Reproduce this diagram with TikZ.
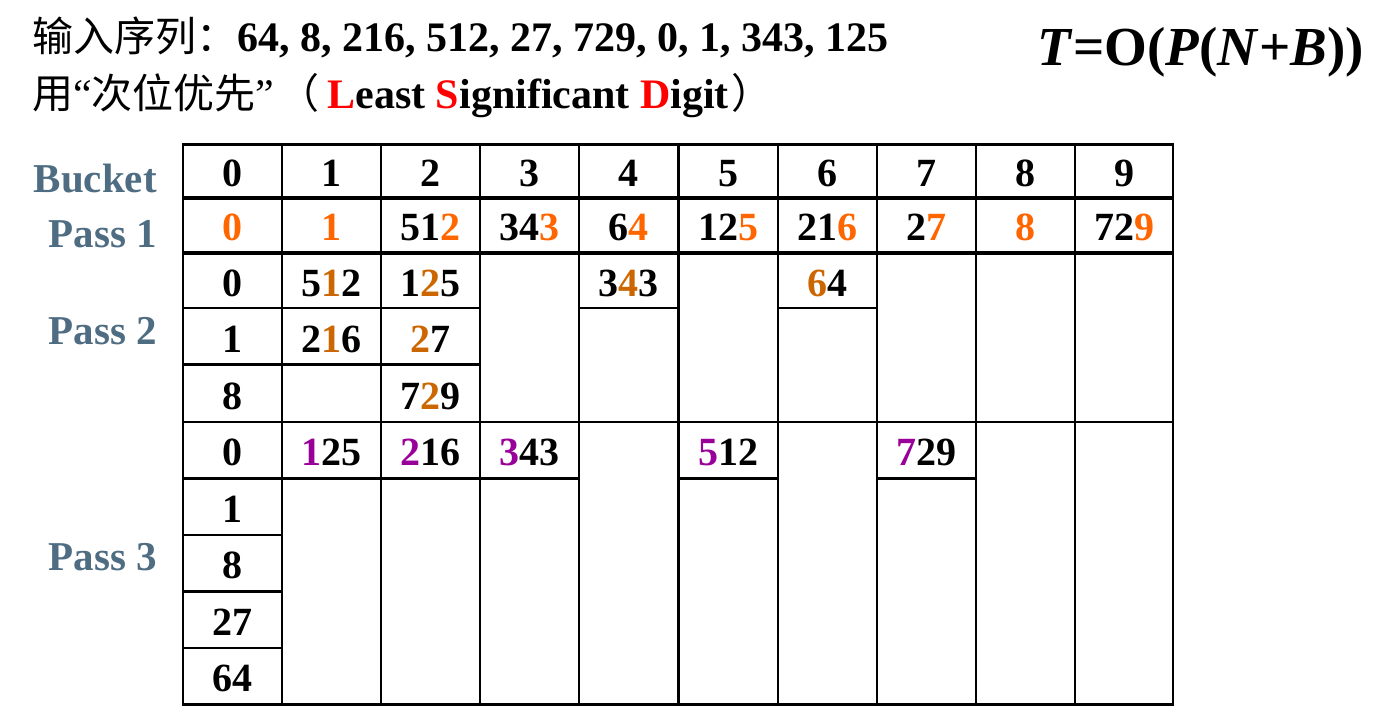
\documentclass[tikz,border=0pt]{standalone}
\usepackage{fontspec}
\setmainfont{Liberation Serif}
\newfontfamily\cjk{Noto Sans CJK SC}
\definecolor{lab}{HTML}{4F6D82}
\definecolor{ora}{HTML}{FF6600}
\definecolor{orb}{HTML}{CC6600}
\definecolor{pur}{HTML}{990099}
\newcommand{\oa}[1]{\textcolor{ora}{#1}}
\newcommand{\ob}[1]{\textcolor{orb}{#1}}
\newcommand{\pp}[1]{\textcolor{pur}{#1}}
\newcommand{\rd}[1]{\textcolor{red}{#1}}
\begin{document}
\begin{tikzpicture}[x=1pt,y=-1pt,
  cell/.style={anchor=base,font=\fontsize{40}{40}\selectfont\bfseries,inner sep=0pt},
  lbl/.style={anchor=base east,font=\fontsize{41}{41}\selectfont\bfseries,text=lab,inner sep=0pt},
  title/.style={anchor=base west,font=\fontsize{42}{42}\selectfont,inner sep=0pt},
  gridline/.style={line width=2.6pt},
  heavyrule/.style={line width=4pt}]
\useasboundingbox (0,0) rectangle (1378,715);
\fill[white] (0,0) rectangle (1378,715);

% titles
\node[title] (t1) at (32,51) {{\cjk\fontsize{41}{41}\selectfont 输入序列：}\textbf{64, 8, 216, 512, 27, 729, 0, 1, 343, 125}};
\node[title] (t2) at (32,108) {{\cjk\fontsize{41}{41}\selectfont 用}“{\cjk\fontsize{41}{41}\selectfont 次位优先}”\hspace{4pt}{\cjk\fontsize{41}{41}\selectfont （}\hspace{8pt}\textbf{\rd{L}east \rd{S}ignificant \rd{D}igit}\hspace{3pt}{\cjk\fontsize{41}{41}\selectfont ）}};
\node[anchor=base east,inner sep=0pt,font=\fontsize{55}{55}\selectfont\bfseries] (tf) at (1364,65) {\textit{T}=O(\textit{P}(\textit{N}+\textit{B}))};

% left labels
\node[lbl] (lb) at (157,192) {Bucket};
\node[lbl] (l1) at (157,247) {Pass 1};
\node[lbl] (l2) at (157,344) {Pass 2};
\node[lbl] (l3) at (157,570) {Pass 3};

% grid
\draw[gridline] (183,144.5) rectangle (1173,704.5);
\foreach \x in {282,381,480,579,678.5,778,877,976,1075}
  \draw[gridline] (\x,144.5) -- (\x,704.5);
\draw[heavyrule] (183,197.5) -- (1173,197.5);
\draw[heavyrule] (183,252.5) -- (1173,252.5);
\draw[gridline] (183,308) -- (480,308);
\draw[gridline] (579,308) -- (678.5,308);
\draw[gridline] (778,308) -- (877,308);
\draw[gridline] (183,364.5) -- (480,364.5);
\draw[gridline] (183,422) -- (1173,422);
\draw[gridline] (183,478.5) -- (579,478.5);
\draw[gridline] (678.5,478.5) -- (778,478.5);
\draw[gridline] (877,478.5) -- (976,478.5);
\draw[gridline] (183,535) -- (282,535);
\draw[gridline] (183,591.5) -- (282,591.5);
\draw[gridline] (183,648) -- (282,648);

% header
\foreach \i/\cxx in {0/232.5,1/331.5,2/430.5,3/529.5,4/628.5,5/728.25,6/827.5,7/926.5,8/1025.5,9/1124}
  \node[cell] (h\i) at (\cxx,186.5) {\i};

% pass 1
\node[cell] (a0) at (232.5,240.5) {\oa{0}};
\node[cell] (a1) at (331.5,240.5) {\oa{1}};
\node[cell] (a2) at (430.5,240.5) {51\oa{2}};
\node[cell] (a3) at (529.5,240.5) {34\oa{3}};
\node[cell] (a4) at (628.5,240.5) {6\oa{4}};
\node[cell] (a5) at (728.25,240.5) {12\oa{5}};
\node[cell] (a6) at (827.5,240.5) {21\oa{6}};
\node[cell] (a7) at (926.5,240.5) {2\oa{7}};
\node[cell] (a8) at (1025.5,240.5) {\oa{8}};
\node[cell] (a9) at (1124,240.5) {72\oa{9}};

% pass 2
\node[cell] (b00) at (232.5,296) {0};
\node[cell] (b01) at (232.5,352) {1};
\node[cell] (b02) at (232.5,409) {8};
\node[cell] (b10) at (331.5,296) {5\ob{1}2};
\node[cell] (b11) at (331.5,352) {2\ob{1}6};
\node[cell] (b20) at (430.5,296) {1\ob{2}5};
\node[cell] (b21) at (430.5,352) {\ob{2}7};
\node[cell] (b22) at (430.5,409) {7\ob{2}9};
\node[cell] (b40) at (628.5,296) {3\ob{4}3};
\node[cell] (b60) at (827.5,296) {\ob{6}4};

% pass 3
\node[cell] (c00) at (232.5,465.5) {0};
\node[cell] (c01) at (232.5,522) {1};
\node[cell] (c02) at (232.5,578.5) {8};
\node[cell] (c03) at (232.5,635) {27};
\node[cell] (c04) at (232.5,691.5) {64};
\node[cell] (c10) at (331.5,465.5) {\pp{1}25};
\node[cell] (c20) at (430.5,465.5) {\pp{2}16};
\node[cell] (c30) at (529.5,465.5) {\pp{3}43};
\node[cell] (c50) at (728.25,465.5) {\pp{5}12};
\node[cell] (c70) at (926.5,465.5) {\pp{7}29};
\end{tikzpicture}
\end{document}
